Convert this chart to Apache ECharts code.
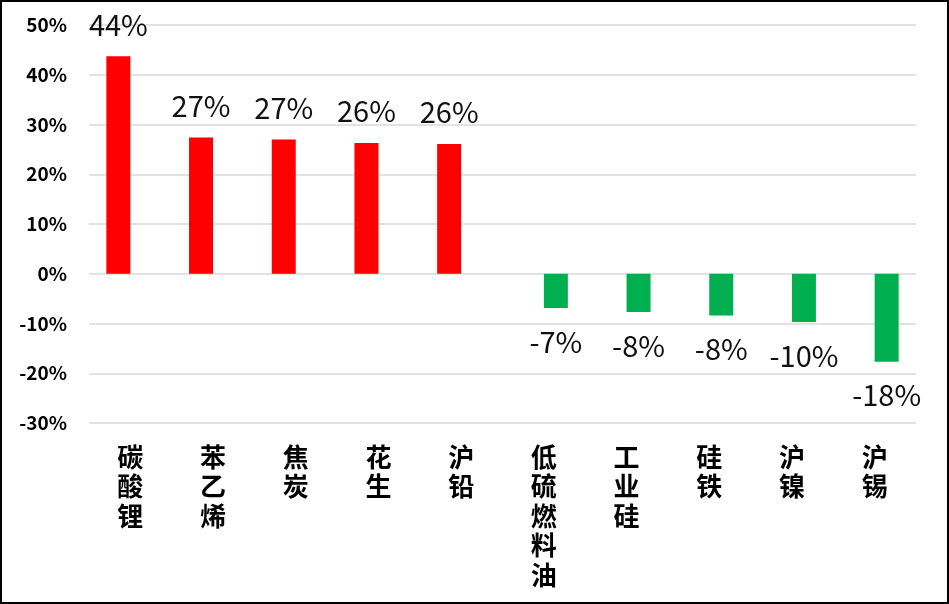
<!DOCTYPE html>
<html>
<head>
<meta charset="utf-8">
<script src="https://cdn.jsdelivr.net/npm/echarts@6/dist/echarts.min.js"></script>
<style>
html,body{margin:0;padding:0;background:#fff;}
#wrap{position:relative;width:949px;height:604px;}
#chart{position:absolute;left:0;top:0;width:949px;height:604px;}
#frame{position:absolute;left:0;top:0;width:949px;height:604px;box-sizing:border-box;border:2px solid #000;pointer-events:none;}
</style>
</head>
<body>
<div id="wrap"><div id="chart"></div><div id="frame"></div></div>
<script>
const categories = ['碳酸锂','苯乙烯','焦炭','花生','沪铅','低硫燃料油','工业硅','硅铁','沪镍','沪锡'];
const riseValues = [43.7, 27.4, 27.0, 26.3, 26.1, null, null, null, null, null];
const fallValues = [null, null, null, null, null, -6.9, -7.7, -8.4, -9.7, -17.7];
const yTicks = {min: -30, max: 50, interval: 10};

const FONT = '"Noto Sans CJK SC", "Noto Sans", sans-serif';
const chart = echarts.init(document.getElementById('chart'));
const labelFmt = p => Math.round(p.value) + '%';
chart.setOption({
  animation: false,
  backgroundColor: '#fff',
  grid: {left: 89, right: 33, top: 25, bottom: 181},
  xAxis: {
    type: 'category',
    data: categories,
    axisLine: {show: false, onZero: false},
    axisTick: {show: false},
    axisLabel: {
      interval: 0,
      margin: 19,
      verticalAlign: 'top',
      color: '#000',
      fontFamily: FONT,
      fontWeight: 'bold',
      fontSize: 26,
      lineHeight: 29.5,
      formatter: v => v.split('').join('\n')
    }
  },
  yAxis: {
    type: 'value',
    min: yTicks.min, max: yTicks.max, interval: yTicks.interval,
    axisLine: {show: false},
    axisTick: {show: false},
    splitLine: {lineStyle: {color: '#d9d9d9', width: 1.5}},
    axisLabel: {
      margin: 22,
      color: '#000',
      fontFamily: FONT,
      fontWeight: 'bold',
      fontSize: 19,
      formatter: '{value}%'
    }
  },
  series: [
    {
      type: 'bar',
      data: riseValues,
      barWidth: 24,
      barGap: '0%',
      itemStyle: {color: '#ff0000'},
      label: {show: true, position: 'top', distance: 17, color: '#111', fontFamily: FONT, fontSize: 29, formatter: labelFmt}
    },
    {
      type: 'bar',
      data: fallValues,
      barWidth: 24,
      barGap: '0%',
      itemStyle: {color: '#00b050'},
      label: {show: true, position: 'bottom', distance: 19, color: '#111', fontFamily: FONT, fontSize: 29, formatter: labelFmt}
    }
  ]
});
</script>
</body>
</html>
